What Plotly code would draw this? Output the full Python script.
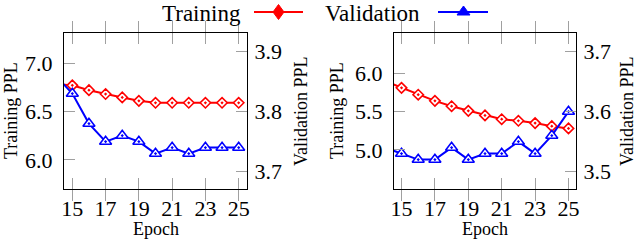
import plotly.graph_objects as go
from plotly.subplots import make_subplots

# ---------------- data ----------------
epochs = [14, 15, 16, 17, 18, 19, 20, 21, 22, 23, 24, 25]
train_left = [6.78, 6.77, 6.72, 6.68, 6.645, 6.61, 6.59, 6.59, 6.59, 6.59, 6.59, 6.59]
val_left = [3.86, 3.83, 3.78, 3.75, 3.76, 3.75, 3.73, 3.74, 3.73, 3.74, 3.74, 3.74]
train_right = [5.90, 5.81, 5.72, 5.64, 5.57, 5.51, 5.45, 5.40, 5.38, 5.35, 5.31, 5.28]
val_right = [3.54, 3.53, 3.52, 3.52, 3.54, 3.52, 3.53, 3.53, 3.55, 3.53, 3.56, 3.60]

x_ticks = [15, 17, 19, 21, 23, 25]
ytick_train_left = [6.0, 6.5, 7.0]
ytick_val_left = [3.7, 3.8, 3.9]
ytick_train_right = [5.0, 5.5, 6.0]
ytick_val_right = [3.5, 3.6, 3.7]

series_names = ["Training", "Validation"]
x_title = "Epoch"
y_title_train = "Training PPL"
y_title_val = "Validation PPL"

RED = "#ff0000"
BLUE = "#0000ff"
FONT = "Liberation Serif"
W, H = 638, 240

fig = make_subplots(rows=1, cols=2,
                    specs=[[{"secondary_y": True}, {"secondary_y": True}]])

def add_pair(col, tr, va):
    fig.add_trace(go.Scatter(
        x=epochs, y=tr, mode="lines+markers", name=series_names[0],
        line=dict(color=RED, width=2),
        marker=dict(symbol="diamond-dot", size=8, color="white",
                    line=dict(color=RED, width=1.6))),
        row=1, col=col, secondary_y=False)
    fig.add_trace(go.Scatter(
        x=epochs, y=va, mode="lines+markers", name=series_names[1],
        line=dict(color=BLUE, width=2),
        marker=dict(symbol="triangle-up-dot", size=10.5, color="white",
                    line=dict(color=BLUE, width=1.6))),
        row=1, col=col, secondary_y=True)

add_pair(1, train_left, val_left)
add_pair(2, train_right, val_right)

def px_x(p):
    return p / W

def px_y(p):
    return 1 - p / H

dom_y = [px_y(189), px_y(33)]
dom_left = [px_x(64), px_x(247)]
dom_right = [px_x(394), px_x(576)]

tickfont = dict(family=FONT, size=22, color="black")
common = dict(showline=True, linecolor="black", linewidth=1.3,
              ticks="inside", ticklen=11, tickwidth=1.2, tickcolor="#a0a0a0",
              showgrid=False, zeroline=False, tickfont=tickfont, automargin=False)

fig.update_layout(
    width=W, height=H,
    margin=dict(l=0, r=0, t=0, b=0),
    paper_bgcolor="white", plot_bgcolor="white",
    showlegend=False,
    font=dict(family=FONT, color="black"),
    xaxis=dict(domain=dom_left, range=[14.5, 25.5], tickvals=x_ticks,
               mirror="allticks", ticklabelstandoff=-1, **common),
    xaxis2=dict(domain=dom_right, range=[14.55, 25.45], tickvals=x_ticks,
                mirror="allticks", ticklabelstandoff=-1, **common),
    yaxis=dict(domain=dom_y, range=[5.70, 7.31], tickvals=ytick_train_left,
               tickformat=".1f", mirror=True, ticklabelstandoff=6, **common),
    yaxis2=dict(range=[3.671, 3.931], tickvals=ytick_val_left,
                tickformat=".1f", ticklabelstandoff=2, **common),
    yaxis3=dict(domain=dom_y, range=[4.49, 6.525], tickvals=ytick_train_right,
                tickformat=".1f", mirror=True, ticklabelstandoff=6, **common),
    yaxis4=dict(range=[3.471, 3.731], tickvals=ytick_val_right,
                tickformat=".1f", ticklabelstandoff=2, **common),
)

titlefont = dict(family=FONT, size=18, color="black")
ann = []
for cx in (155.5, 485):
    ann.append(dict(text=x_title, x=px_x(cx), y=px_y(229), xref="paper", yref="paper",
                    showarrow=False, xanchor="center", yanchor="middle", font=titlefont))
for cx, t in ((11, y_title_train), (301, y_title_val), (337, y_title_train), (627, y_title_val)):
    ann.append(dict(text=t, x=px_x(cx), y=px_y(111), xref="paper", yref="paper",
                    showarrow=False, xanchor="center", yanchor="middle",
                    textangle=-90, font=titlefont))

# legend (text left of the symbol, as in the reference)
legfont = dict(family=FONT, size=23, color="black")
ann.append(dict(text=series_names[0], x=px_x(242), y=1, xref="paper", yref="paper",
                showarrow=False, xanchor="right", yanchor="top", borderpad=0,
                font=legfont))
ann.append(dict(text=series_names[1], x=px_x(324), y=1, xref="paper", yref="paper",
                showarrow=False, xanchor="left", yanchor="top", borderpad=0,
                font=legfont))
fig.update_layout(annotations=ann)

shapes = [
    dict(type="line", xref="paper", yref="paper", x0=px_x(254), x1=px_x(303),
         y0=px_y(12), y1=px_y(12), line=dict(color=RED, width=2)),
    dict(type="path", xref="paper", yref="paper", xsizemode="pixel", ysizemode="pixel",
         xanchor=px_x(278.5), yanchor=px_y(12),
         path="M0,7.5 L5.5,0 L0,-7.5 L-5.5,0 Z",
         fillcolor=RED, line=dict(color=RED, width=1)),
    dict(type="line", xref="paper", yref="paper", x0=px_x(438), x1=px_x(488),
         y0=px_y(12), y1=px_y(12), line=dict(color=BLUE, width=2)),
    dict(type="path", xref="paper", yref="paper", xsizemode="pixel", ysizemode="pixel",
         xanchor=px_x(463.5), yanchor=px_y(12),
         path="M-6.5,-3 L6.5,-3 L0,6 Z",
         fillcolor=BLUE, line=dict(color=BLUE, width=1)),
]
fig.update_layout(shapes=shapes)

fig.write_html("out.html", config={"displayModeBar": False},
               post_script="document.body.style.margin='0';")
